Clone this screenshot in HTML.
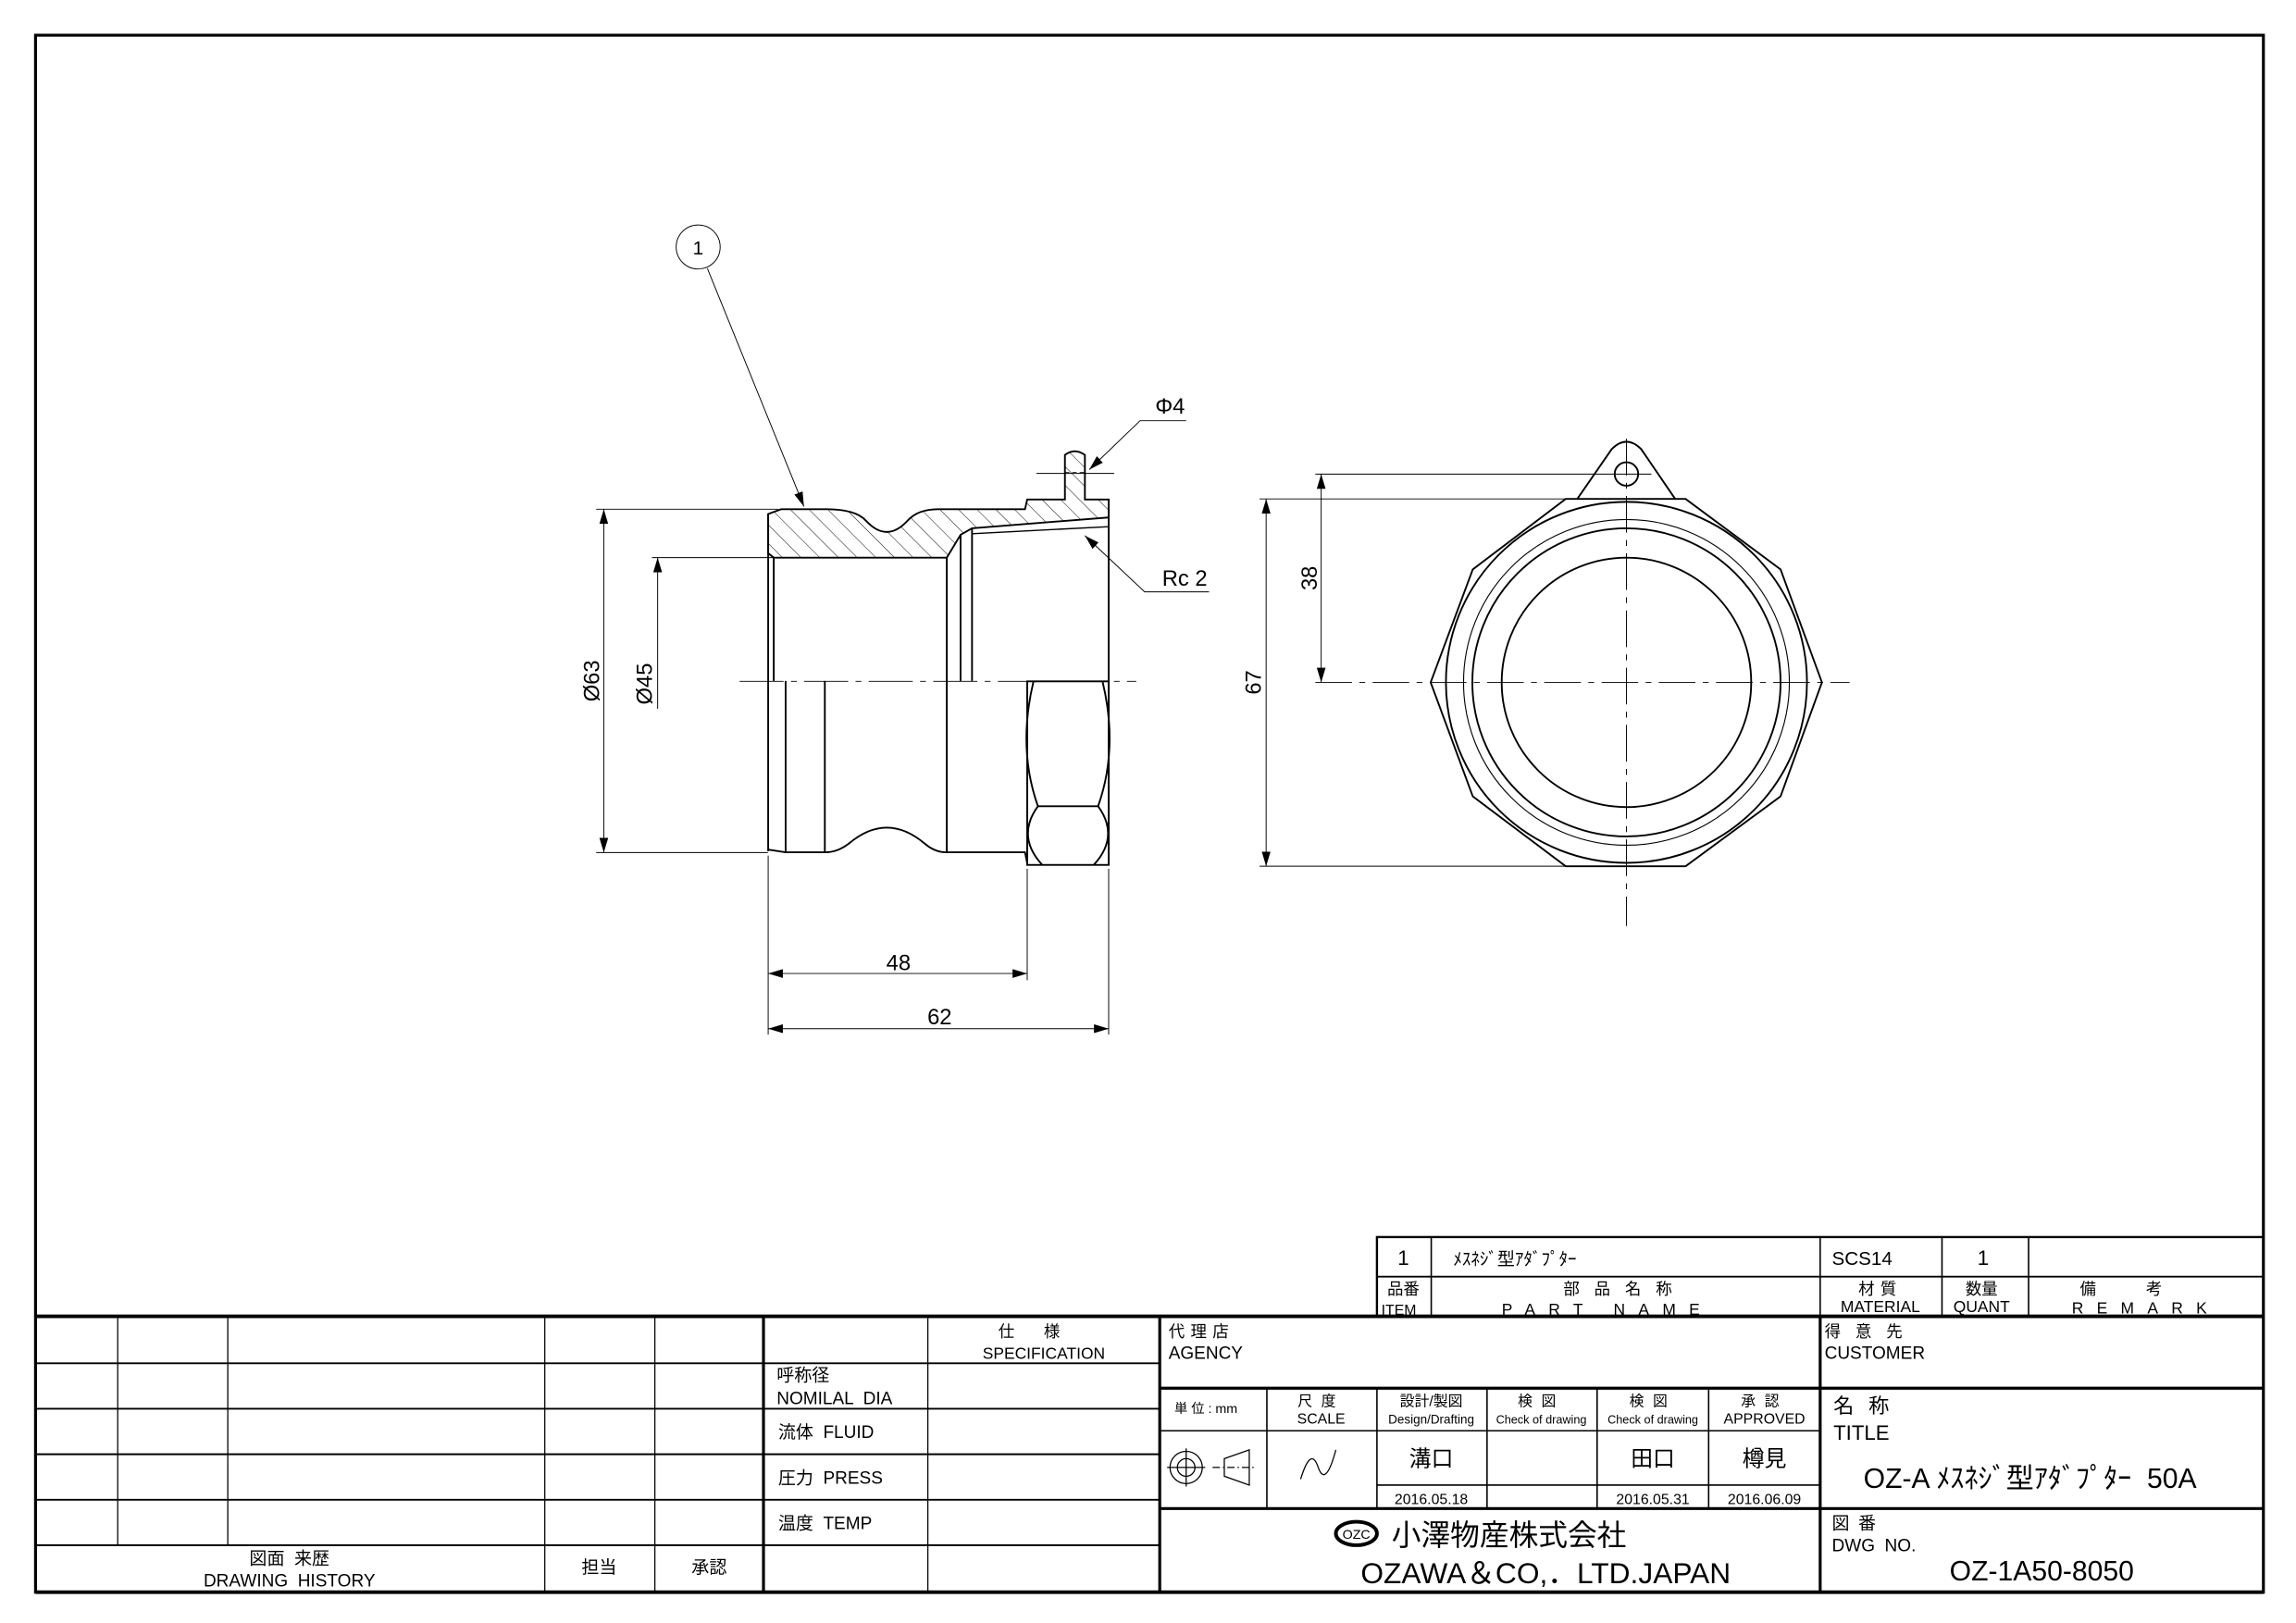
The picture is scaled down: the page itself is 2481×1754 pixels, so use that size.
<!DOCTYPE html>
<html><head><meta charset="utf-8"><style>
html,body{margin:0;padding:0;background:#fff;}
svg{display:block;}
text{font-family:"Liberation Sans","Noto Sans CJK JP",sans-serif;fill:#000;white-space:pre;}
</style></head><body>
<svg width="2481" height="1754" viewBox="0 0 1564 1106" xmlns="http://www.w3.org/2000/svg">
<defs>
<pattern id="hatch" patternUnits="userSpaceOnUse" width="9" height="9" patternTransform="rotate(-45)">
<line x1="0" y1="0" x2="0" y2="9" stroke="#000" stroke-width="0.6"/>
</pattern>
<marker id="ar" markerWidth="10" markerHeight="6" refX="10" refY="3" orient="auto" markerUnits="userSpaceOnUse"><path d="M0,0 L10,3 L0,6 z" fill="#000"/></marker>
<marker id="al" markerWidth="10" markerHeight="6" refX="0" refY="3" orient="auto" markerUnits="userSpaceOnUse"><path d="M10,0 L0,3 L10,6 z" fill="#000"/></marker>
</defs>
<rect x="0" y="0" width="1564" height="1106" fill="#fff"/>
<rect x="24" y="24" width="1518" height="1061" fill="none" stroke="#000" stroke-width="2"/>

<g fill="none" stroke="#000" stroke-width="1.2">
<path d="M523.2,350.3 L532,347 L563,347 Q583,347 590,355 Q604,370 618,355 Q625,347 639,347 L698.2,347 L699.7,340.4 L725.4,340.4 L725.4,310 Q732,305 739,310 L739,340.4 L755.2,340.4 L755.2,352.6 L662.1,360 L654.3,364.4 L644.9,380 L527,380 L523.2,377 Z" fill="url(#hatch)"/>
<line x1="706" y1="322.6" x2="759" y2="322.6" stroke-width="0.6"/>
<line x1="725.4" y1="322" x2="739" y2="322" stroke-width="0.5" stroke-dasharray="3,2"/>
<line x1="755.2" y1="340.4" x2="755.2" y2="589.4"/>
<line x1="523.2" y1="350.3" x2="523.2" y2="580"/>
<line x1="527" y1="380" x2="527" y2="464"/>
<line x1="662.1" y1="363.7" x2="755.2" y2="358.9" stroke-width="0.9"/>
<line x1="654.3" y1="364.4" x2="654.3" y2="464"/>
<line x1="662.1" y1="360" x2="662.1" y2="464"/>
<line x1="644.9" y1="380" x2="644.9" y2="580.8"/>
<line x1="535.1" y1="464" x2="535.1" y2="580.8"/>
<line x1="561.8" y1="464" x2="561.8" y2="580.8"/>
<path d="M523.2,579 L535,580.8 L561.8,580.8 Q570,581 578,575 Q604,553 630,575 Q637,581 644.9,580.8 L698.2,580.8 L699.7,588.3"/>
<rect x="699.7" y="464.3" width="55.5" height="125.1"/>
<path d="M704,464.3 Q693,510 707,549.4 L748,549.4 Q762,510 751,464.3"/>
<path d="M707,549.4 Q692,570 710,589.4 M748,549.4 Q763,570 745,589.4"/>
<line x1="503.7" y1="464.3" x2="774" y2="464.3" stroke-width="0.6" stroke-dasharray="30,5,4,5"/>
</g>
<g fill="none" stroke="#000" stroke-width="0.6">
<ellipse cx="475.5" cy="168.3" rx="15" ry="15"/>
<line x1="481.8" y1="183" x2="547.6" y2="345.2" marker-end="url(#ar)"/>
<polyline points="808,286.7 776.6,286.7 742,320" marker-end="url(#ar)"/>
<polyline points="823.6,403.3 779.7,403.3 739,365" marker-end="url(#ar)"/>
<line x1="406" y1="347" x2="530" y2="347"/>
<line x1="406" y1="581" x2="523" y2="581"/>
<line x1="411.2" y1="347" x2="411.2" y2="581" marker-start="url(#al)" marker-end="url(#ar)"/>
<line x1="444" y1="380" x2="527" y2="380"/>
<line x1="447.9" y1="380" x2="447.9" y2="483" marker-start="url(#al)"/>
<line x1="523.2" y1="583" x2="523.2" y2="705"/>
<line x1="699.7" y1="592" x2="699.7" y2="668"/>
<line x1="755.2" y1="592" x2="755.2" y2="705"/>
<line x1="523.2" y1="663.4" x2="699.7" y2="663.4" marker-start="url(#al)" marker-end="url(#ar)"/>
<line x1="523.2" y1="701" x2="755.2" y2="701" marker-start="url(#al)" marker-end="url(#ar)"/>
</g>
<g font-size="15">
<text x="475.5" y="173.5" text-anchor="middle" font-size="13">1</text>
<text x="797" y="282" text-anchor="middle">Φ4</text>
<text x="807" y="399" text-anchor="middle">Rc 2</text>
<text x="612" y="661" text-anchor="middle">48</text>
<text x="640" y="698" text-anchor="middle">62</text>
<text transform="translate(408,464) rotate(-90)" text-anchor="middle">Ø63</text>
<text transform="translate(444,466) rotate(-90)" text-anchor="middle">Ø45</text>
<text transform="translate(859,465) rotate(-90)" text-anchor="middle">67</text>
<text transform="translate(897,394) rotate(-90)" text-anchor="middle">38</text>
</g>

<g fill="none" stroke="#000" stroke-width="1.2">
<polygon points="1066.6,340 1148.3,340 1213,388 1241.2,465 1213,542.7 1148.3,590.3 1066.6,590.3 1003.3,542.7 974.6,465 1003.3,388"/>
<path d="M1074.5,340 L1098,306 Q1108,296 1118,306 L1141.2,340"/>
<circle cx="1108" cy="323" r="8"/>
<circle cx="1108" cy="465" r="123"/>
<circle cx="1108" cy="465" r="111" stroke-width="0.7"/>
<circle cx="1108" cy="465" r="105"/>
<circle cx="1108" cy="465" r="85"/>
</g>
<g fill="none" stroke="#000" stroke-width="0.6">
<line x1="1108" y1="299" x2="1108" y2="631" stroke-dasharray="25,5,4,5"/>
<line x1="896" y1="465" x2="1260" y2="465" stroke-dasharray="25,5,4,5"/>
<line x1="858" y1="340" x2="1067" y2="340"/>
<line x1="858" y1="590.3" x2="1067" y2="590.3"/>
<line x1="896" y1="323.1" x2="1125" y2="323.1"/>
<line x1="862.5" y1="340" x2="862.5" y2="590.3" marker-start="url(#al)" marker-end="url(#ar)"/>
<line x1="900" y1="323.1" x2="900" y2="465" marker-start="url(#al)" marker-end="url(#ar)"/>
</g>

<g fill="none" stroke="#000">
<rect x="938" y="843" width="604" height="54" stroke-width="1.5"/>
<line x1="938" y1="870" x2="1542" y2="870" stroke-width="1.2"/>
<line x1="975" y1="843" x2="975" y2="897" stroke-width="1"/>
<line x1="1240" y1="843" x2="1240" y2="897" stroke-width="1"/>
<line x1="1323" y1="843" x2="1323" y2="897" stroke-width="1"/>
<line x1="1382" y1="843" x2="1382" y2="897" stroke-width="1"/>
<line x1="24" y1="897" x2="1542" y2="897" stroke-width="2.5"/>
<line x1="24" y1="1085" x2="1542" y2="1085" stroke-width="2.5"/>
<g stroke-width="1.2">
<line x1="24" y1="929" x2="790" y2="929"/>
<line x1="24" y1="960" x2="790" y2="960"/>
<line x1="24" y1="991" x2="790" y2="991"/>
<line x1="24" y1="1022" x2="790" y2="1022"/>
<line x1="24" y1="1053" x2="790" y2="1053"/>
</g>
<g stroke-width="0.8">
<line x1="80" y1="897" x2="80" y2="1053"/>
<line x1="155" y1="897" x2="155" y2="1053"/>
<line x1="371" y1="897" x2="371" y2="1085"/>
<line x1="446" y1="897" x2="446" y2="1085"/>
<line x1="632" y1="897" x2="632" y2="1085"/>
</g>
<line x1="520" y1="897" x2="520" y2="1085" stroke-width="2"/>
<line x1="790" y1="897" x2="790" y2="1085" stroke-width="2"/>
<line x1="790" y1="946" x2="1542" y2="946" stroke-width="2"/>
<line x1="790" y1="1028" x2="1542" y2="1028" stroke-width="2"/>
<line x1="1240" y1="897" x2="1240" y2="1085" stroke-width="2"/>
<g stroke-width="1">
<line x1="790" y1="975" x2="1240" y2="975"/>
<line x1="938" y1="1012" x2="1240" y2="1012"/>
<line x1="863" y1="946" x2="863" y2="1028"/>
<line x1="938" y1="946" x2="938" y2="1028"/>
<line x1="1013" y1="946" x2="1013" y2="1028"/>
<line x1="1088" y1="946" x2="1088" y2="1028"/>
<line x1="1164" y1="946" x2="1164" y2="1028"/>
</g>
<g stroke-width="0.8">
<circle cx="808" cy="1000" r="11"/><circle cx="808" cy="1000" r="6"/>
<line x1="795" y1="1000" x2="821" y2="1000"/><line x1="808" y1="987" x2="808" y2="1013"/>
<polygon points="834,994 851,988 851,1012 834,1006"/>
<line x1="826" y1="1000" x2="856" y2="1000" stroke-dasharray="5,2,1,2"/>
<path d="M886,1008 Q893,985 898,1000 Q903,1014 910,988"/>
<ellipse cx="924" cy="1045" rx="14" ry="8" stroke-width="2.5"/>
</g>
</g>
<g font-size="11">
<text x="956" y="862" text-anchor="middle" font-size="14">1</text>
<text x="990" y="862" font-size="12">ﾒｽﾈｼﾞ型ｱﾀﾞﾌﾟﾀｰ</text>
<text x="1248" y="862" font-size="13">SCS14</text>
<text x="1351" y="862" text-anchor="middle" font-size="14">1</text>
<text x="945" y="882" font-size="11">品番</text>
<text x="941" y="896" font-size="10">ITEM</text>
<text x="1107" y="882" text-anchor="middle" letter-spacing="10">部品名称</text>
<text x="1095" y="896" text-anchor="middle" letter-spacing="9">PART NAME</text>
<text x="1281" y="882" text-anchor="middle" letter-spacing="4">材質</text>
<text x="1281" y="894" text-anchor="middle" font-size="11">MATERIAL</text>
<text x="1350" y="882" text-anchor="middle">数量</text>
<text x="1350" y="894" text-anchor="middle">QUANT</text>
<text x="1462" y="882" text-anchor="middle" letter-spacing="34">備考</text>
<text x="1462" y="895" text-anchor="middle" letter-spacing="9">REMARK</text>
<text x="796" y="911" letter-spacing="4">代理店</text>
<text x="796" y="926" font-size="12">AGENCY</text>
<text x="1243" y="911" letter-spacing="10">得意先</text>
<text x="1243" y="926" font-size="12">CUSTOMER</text>
<text x="800" y="963" font-size="9">単 位 : mm</text>
<text x="900" y="958" text-anchor="middle" font-size="10" letter-spacing="6">尺度</text>
<text x="900" y="970" text-anchor="middle" font-size="10">SCALE</text>
<text x="975" y="958" text-anchor="middle" font-size="10">設計/製図</text>
<text x="975" y="970" text-anchor="middle" font-size="8.5">Design/Drafting</text>
<text x="1050" y="958" text-anchor="middle" font-size="10" letter-spacing="6">検図</text>
<text x="1050" y="970" text-anchor="middle" font-size="8">Check of drawing</text>
<text x="1126" y="958" text-anchor="middle" font-size="10" letter-spacing="6">検図</text>
<text x="1126" y="970" text-anchor="middle" font-size="8">Check of drawing</text>
<text x="1202" y="958" text-anchor="middle" font-size="10" letter-spacing="6">承認</text>
<text x="1202" y="970" text-anchor="middle" font-size="10">APPROVED</text>
<text x="975" y="999" text-anchor="middle" font-size="15">溝口</text>
<text x="1126" y="999" text-anchor="middle" font-size="15">田口</text>
<text x="1202" y="999" text-anchor="middle" font-size="15">樽見</text>
<text x="975" y="1025" text-anchor="middle" font-size="10">2016.05.18</text>
<text x="1126" y="1025" text-anchor="middle" font-size="10">2016.05.31</text>
<text x="1202" y="1025" text-anchor="middle" font-size="10">2016.06.09</text>
<text x="1249" y="963" font-size="14" letter-spacing="10">名称</text>
<text x="1249" y="981" font-size="14">TITLE</text>
<text x="1383" y="1014" text-anchor="middle" font-size="19">OZ-A ﾒｽﾈｼﾞ型ｱﾀﾞﾌﾟﾀｰ  50A</text>
<text x="924" y="1048.5" text-anchor="middle" font-size="9">OZC</text>
<text x="948" y="1053" font-size="20">小澤物産株式会社</text>
<text x="1053" y="1079" text-anchor="middle" font-size="20">OZAWA＆CO,．LTD.JAPAN</text>
<text x="1248" y="1042" font-size="12" letter-spacing="6">図番</text>
<text x="1248" y="1057" font-size="12">DWG  NO.</text>
<text x="1391" y="1077" text-anchor="middle" font-size="19">OZ-1A50-8050</text>
<text x="711" y="911" text-anchor="middle" letter-spacing="20">仕様</text>
<text x="711" y="926" text-anchor="middle" font-size="11">SPECIFICATION</text>
<text x="529" y="941" font-size="12">呼称径</text>
<text x="529" y="957" font-size="12">NOMILAL  DIA</text>
<text x="530" y="980" font-size="12">流体  FLUID</text>
<text x="530" y="1011" font-size="12">圧力  PRESS</text>
<text x="530" y="1042" font-size="12">温度  TEMP</text>
<text x="197" y="1066" text-anchor="middle" font-size="12">図面  来歴</text>
<text x="197" y="1081" text-anchor="middle" font-size="12">DRAWING  HISTORY</text>
<text x="408" y="1072" text-anchor="middle" font-size="12">担当</text>
<text x="483" y="1072" text-anchor="middle" font-size="12">承認</text>
</g>
</svg>
</body></html>
